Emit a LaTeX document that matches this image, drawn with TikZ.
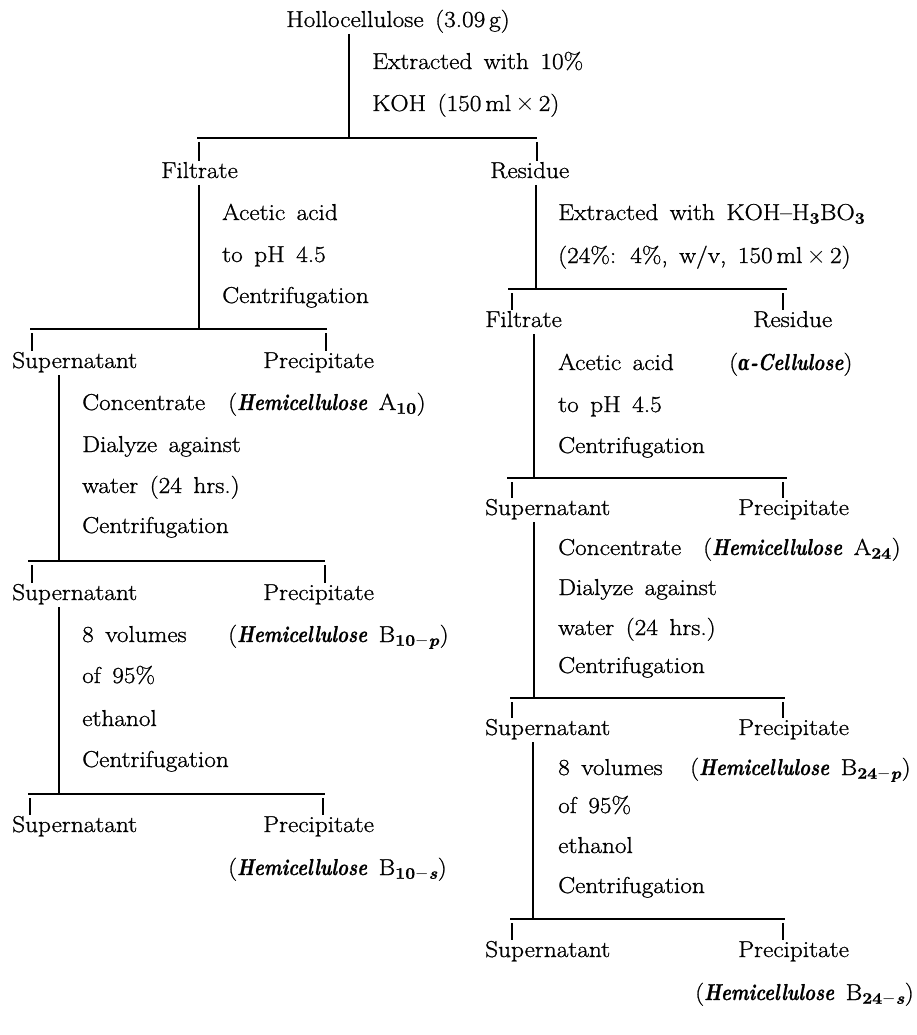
\documentclass[tikz,border=0pt]{standalone}
\usepackage{amsmath}
\usepackage{fontspec}
\setmainfont{Latin Modern Roman}[FakeStretch=1.1,FakeBold=1]
\newfontfamily\grk{DejaVu Serif}
\newcommand\fork[9]{%
  \coordinate (st) at (#2,#3);
  \draw[ln] ([yshift=-7pt]#1.base -| st) -- (st);
  \coordinate (bl) at (#4,#3);
  \coordinate (br) at (#5,#3);
  \draw[ln] (bl) -- (br);
  \coordinate (lt) at (#6,#3+4);
  \coordinate (rt) at (#7,#3+4);
  \draw[ln] (lt) -- ([yshift=1pt]lt |- #8.north);
  \draw[ln] (rt) -- ([yshift=1pt]rt |- #9.north);
}
\newcommand\bfi[1]{\scalebox{0.74}[1]{\textbf{\textit{#1}}}}
\newcommand\hemi{\bfi{Hemicellulose}}
\newcommand\sbb[1]{\textsubscript{\textbf{#1}}}
\newcommand\sbx[2]{\textsubscript{\textbf{#1}$-$\textbf{\textit{#2}}}}
\newcommand\widesp{\spaceskip=0.5em\relax}
\begin{document}
\begin{tikzpicture}[x=1pt,y=-1pt,
  lbl/.style={anchor=base west,inner sep=0pt,font=\fontsize{23}{28}\selectfont,execute at begin node=\widesp},
  ln/.style={line width=1.2pt,black}]
\useasboundingbox (0,0) rectangle (916,1035);
% top
\node[lbl] (hol) at (286,27) {Hollocellulose (3.09\,g)};
\node[lbl] (ext1) at (372,69) {Extracted with 10\%};
\node[lbl] (koh1) at (372,111) {KOH (150\,ml$\,\times\,$2)};
\node[lbl] (filt1) at (161,178) {Filtrate};
\node[lbl] (res1) at (490,178) {Residue};
% left branch
\node[lbl] (aa1) at (222,220) {Acetic acid};
\node[lbl] (ph1) at (222,262) {to pH 4.5};
\node[lbl] (cf1) at (222,303) {Centrifugation};
\node[lbl] (sup1) at (12,368) {Supernatant};
\node[lbl] (pre1) at (263,368) {Precipitate};
\node[lbl] (con1) at (82,410) {Concentrate};
\node[lbl] (hA10) at (228,410) {(\hemi{} A\sbb{10})};
\node[lbl] (dia1) at (82,452) {Dialyze against};
\node[lbl] (wat1) at (82,493) {water (24 hrs.)};
\node[lbl] (cf2) at (82,533) {Centrifugation};
\node[lbl] (sup2) at (12,600) {Supernatant};
\node[lbl] (pre2) at (263,600) {Precipitate};
\node[lbl] (vol1) at (82,642) {8 volumes};
\node[lbl] (hB10p) at (228,642) {(\hemi{} B\sbx{10}{p})};
\node[lbl] (of1) at (82,683) {of 95\%};
\node[lbl] (eth1) at (82,726) {ethanol};
\node[lbl] (cf3) at (82,767) {Centrifugation};
\node[lbl] (sup3) at (12,832) {Supernatant};
\node[lbl] (pre3) at (263,832) {Precipitate};
\node[lbl] (hB10s) at (228,875) {(\hemi{} B\sbx{10}{s})};
% right branch
\node[lbl] (ext2) at (558,220) {Extracted with KOH--H\sbb{3}BO\sbb{3}};
\node[lbl] (pct) at (558,263) {(24\%: 4\%, w/v, 150\,ml$\,\times\,$2)};
\node[lbl] (filt2) at (485,327) {Filtrate};
\node[lbl] (res2) at (753,327) {Residue};
\node[lbl] (aa2) at (558,370) {Acetic acid};
\node[lbl] (acell) at (729,370) {(\bfi{{\grk\fontsize{21}{26}\selectfont α}-Cellulose})};
\node[lbl] (ph2) at (558,412) {to pH 4.5};
\node[lbl] (cf4) at (558,453) {Centrifugation};
\node[lbl] (sup4) at (485,515) {Supernatant};
\node[lbl] (pre4) at (738,515) {Precipitate};
\node[lbl] (con2) at (558,555) {Concentrate};
\node[lbl] (hA24) at (703,555) {(\hemi{} A\sbb{24})};
\node[lbl] (dia2) at (558,595) {Dialyze against};
\node[lbl] (wat2) at (558,635) {water (24 hrs.)};
\node[lbl] (cf5) at (558,673) {Centrifugation};
\node[lbl] (sup5) at (485,735) {Supernatant};
\node[lbl] (pre5) at (738,735) {Precipitate};
\node[lbl] (vol2) at (558,775) {8 volumes};
\node[lbl] (hB24p) at (690,775) {(\hemi{} B\sbx{24}{p})};
\node[lbl] (of2) at (558,813) {of 95\%};
\node[lbl] (eth2) at (558,853) {ethanol};
\node[lbl] (cf6) at (558,893) {Centrifugation};
\node[lbl] (sup6) at (485,957) {Supernatant};
\node[lbl] (pre6) at (738,957) {Precipitate};
\node[lbl] (hB24s) at (695,1000) {(\hemi{} B\sbx{24}{s})};
% connectors
\fork{hol}{349}{138}{197}{537}{199}{537}{filt1}{res1}
\fork{filt1}{199}{329}{30}{327}{32}{326}{sup1}{pre1}
\fork{sup1}{59}{561}{28}{325}{32}{325}{sup2}{pre2}
\fork{sup2}{59}{794}{28}{325}{30}{323}{sup3}{pre3}
\fork{res1}{536}{289}{508}{787}{512}{783}{filt2}{res2}
\fork{filt2}{534}{478}{507}{787}{512}{783}{sup4}{pre4}
\fork{sup4}{534}{698}{510}{785}{512}{783}{sup5}{pre5}
\fork{sup5}{533}{919}{510}{785}{512}{783}{sup6}{pre6}
\end{tikzpicture}
\end{document}
